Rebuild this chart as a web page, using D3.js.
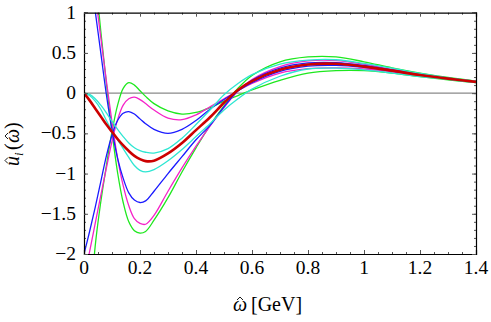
<!DOCTYPE html>
<meta charset="utf-8">
<title>u_i(omega) basis curves</title>
<script src="https://d3js.org/d3.v7.min.js"></script>
<style>
  body { margin: 0; background: #fff; }
</style>
<body>
<script>

// omega grid (GeV) and curve values
var omega = [0, 0.02, 0.04, 0.06, 0.08, 0.1, 0.12, 0.14, 0.16, 0.18, 0.2, 0.22, 0.25, 0.3,
             0.35, 0.4, 0.45, 0.5, 0.55, 0.6, 0.7, 0.8, 0.9, 1.0, 1.1, 1.2, 1.3, 1.4];

var redCurve  = [0, -0.09, -0.19, -0.29, -0.39, -0.48, -0.57, -0.65, -0.72, -0.78, -0.82, -0.845, -0.84, -0.75,
                 -0.62, -0.46, -0.3, -0.12, 0.04, 0.15, 0.29, 0.355, 0.365, 0.33, 0.28, 0.225, 0.18, 0.14];
var cyanUp    = [0, -0.015, -0.07, -0.15, -0.245, -0.35, -0.45, -0.54, -0.62, -0.68, -0.715, -0.735, -0.745, -0.69,
                 -0.56, -0.39, -0.21, -0.02, 0.12, 0.23, 0.36, 0.41, 0.415, 0.37, 0.31, 0.245, 0.19, 0.15];
var cyanLo    = [0, -0.03, -0.1, -0.2, -0.34, -0.47, -0.58, -0.69, -0.8, -0.9, -0.96, -0.98, -0.95, -0.84,
                 -0.7, -0.54, -0.38, -0.21, -0.07, 0.05, 0.21, 0.3, 0.31, 0.29, 0.25, 0.205, 0.17, 0.13];
var blueUp    = [-2.0, -1.72, -1.42, -1.1, -0.78, -0.52, -0.34, -0.25, -0.23, -0.26, -0.32, -0.38, -0.45, -0.5,
                 -0.45, -0.34, -0.2, -0.08, 0.03, 0.13, 0.27, 0.335, 0.345, 0.32, 0.275, 0.225, 0.18, 0.14];
var blueLo    = [2.0, 1.54, 1.02, 0.5, -0.02, -0.46, -0.81, -1.06, -1.24, -1.33, -1.36, -1.34, -1.22, -1.0,
                 -0.79, -0.58, -0.4, -0.17, 0.03, 0.16, 0.31, 0.375, 0.38, 0.345, 0.29, 0.235, 0.185, 0.14];
var magUp     = [-2.3, -1.97, -1.62, -1.27, -0.93, -0.6, -0.33, -0.15, -0.07, -0.05, -0.08, -0.13, -0.21, -0.31,
                 -0.33, -0.27, -0.17, -0.07, 0.03, 0.12, 0.25, 0.305, 0.315, 0.3, 0.265, 0.22, 0.175, 0.135];
var magLo     = [2.3, 1.79, 1.24, 0.69, 0.15, -0.36, -0.81, -1.15, -1.4, -1.56, -1.62, -1.63, -1.52, -1.22,
                 -0.93, -0.66, -0.41, -0.18, 0.03, 0.17, 0.33, 0.4, 0.405, 0.36, 0.295, 0.23, 0.185, 0.145];
var greenUp   = [-3.5, -2.8, -1.9, -1.35, -0.9, -0.48, -0.15, 0.06, 0.13, 0.1, 0.03, -0.04, -0.13, -0.22,
                 -0.26, -0.24, -0.18, -0.1, -0.03, 0.04, 0.16, 0.25, 0.28, 0.28, 0.25, 0.205, 0.165, 0.13];
var greenLo   = [3.5, 2.6, 1.52, 0.77, 0.12, -0.48, -0.99, -1.36, -1.6, -1.71, -1.74, -1.72, -1.58, -1.3,
                 -0.98, -0.68, -0.4, -0.16, 0.06, 0.22, 0.39, 0.45, 0.45, 0.39, 0.315, 0.25, 0.195, 0.15];

var xMajor = [0, 0.2, 0.4, 0.6, 0.8, 1, 1.2, 1.4];
var yMajor = [-2, -1.5, -1, -0.5, 0, 0.5, 1];

var series = [
  {values: greenUp, color: "#1ee81e", width: 1.3},
  {values: greenLo, color: "#1ee81e", width: 1.3},
  {values: magUp,   color: "#f522c8", width: 1.3},
  {values: magLo,   color: "#f522c8", width: 1.3},
  {values: blueUp,  color: "#1a1aff", width: 1.3},
  {values: blueLo,  color: "#1a1aff", width: 1.3},
  {values: cyanUp,  color: "#2ee6d2", width: 1.3},
  {values: cyanLo,  color: "#2ee6d2", width: 1.3},
  {values: redCurve, color: "#cc0000", width: 2.6}
];

var SERIF = "'Liberation Serif', 'DejaVu Serif', serif";
var W = 491, H = 322;
var x = d3.scaleLinear().domain([0, 1.4]).range([84, 476]);
var y = d3.scaleLinear().domain([-2, 1]).range([254, 12.7]);

var svg = d3.select("body").append("svg")
    .attr("width", W)
    .attr("height", H)
    .style("font-family", SERIF);

svg.append("clipPath").attr("id", "plotclip")
  .append("rect")
    .attr("x", x(0)).attr("y", y(1))
    .attr("width", x(1.4) - x(0)).attr("height", y(-2) - y(1));

// zero line
svg.append("line")
    .attr("x1", x(0)).attr("x2", x(1.4))
    .attr("y1", y(0)).attr("y2", y(0))
    .attr("stroke", "#8a8a8a")
    .attr("stroke-width", 1.3);

var line = d3.line()
    .x(function(d) { return x(d[0]); })
    .y(function(d) { return y(d[1]); })
    .curve(d3.curveCatmullRom.alpha(0.5));

var curves = svg.append("g").attr("clip-path", "url(#plotclip)");
series.forEach(function(s) {
  curves.append("path")
      .datum(omega.map(function(o, i) { return [o, s.values[i]]; }))
      .attr("fill", "none")
      .attr("stroke", s.color)
      .attr("stroke-width", s.width)
      .attr("d", line);
});

// frame with inward ticks, mirrored on top/right
var xMinor = d3.range(0, 1.4001, 0.05);
var yMinor = d3.range(-2, 1.0001, 0.1);
var fmt = d3.format("~g");

function frameSide(axis, pos, vals, len, keepDomain) {
  var g = svg.append("g").attr("transform", pos)
      .call(axis.tickValues(vals).tickSize(-len).tickFormat(""));
  g.selectAll(".tick text").remove();
  g.selectAll(".tick line").attr("stroke", "#555");
  if (keepDomain) g.select(".domain").attr("stroke", "#000").attr("stroke-width", 1.2);
  else g.select(".domain").remove();
}

frameSide(d3.axisBottom(x), "translate(0," + y(-2) + ")", xMinor, 2, false);
frameSide(d3.axisTop(x), "translate(0," + y(1) + ")", xMinor, 2, false);
frameSide(d3.axisLeft(y), "translate(" + x(0) + ",0)", yMinor, 2, false);
frameSide(d3.axisRight(y), "translate(" + x(1.4) + ",0)", yMinor, 2, false);
frameSide(d3.axisBottom(x), "translate(0," + y(-2) + ")", xMajor, 4, true);
frameSide(d3.axisTop(x), "translate(0," + y(1) + ")", xMajor, 4, true);
frameSide(d3.axisLeft(y), "translate(" + x(0) + ",0)", yMajor, 4, true);
frameSide(d3.axisRight(y), "translate(" + x(1.4) + ",0)", yMajor, 4, true);

// tick labels
svg.append("g").selectAll("text").data(xMajor).join("text")
    .attr("x", function(d) { return x(d); })
    .attr("y", 274)
    .attr("text-anchor", "middle")
    .style("font-size", "19.5px")
    .text(fmt);
svg.append("g").selectAll("text").data(yMajor).join("text")
    .attr("x", 76)
    .attr("y", function(d) { return y(d) + 6; })
    .attr("text-anchor", "end")
    .style("font-size", "19.5px")
    .text(fmt);

// small circumflex accent drawn as a path
function hat(g, cx, top) {
  g.append("path")
      .attr("d", "M" + (cx - 3) + "," + (top + 3) + "L" + cx + "," + top + "L" + (cx + 3) + "," + (top + 3))
      .attr("fill", "none")
      .attr("stroke", "#000")
      .attr("stroke-width", 0.9);
}

// axis titles
var xt = svg.append("g").attr("transform", "translate(233,311)");
xt.append("text").style("font-size", "20px").style("font-style", "italic").text("\u03c9");
hat(xt, 7, -14);
xt.append("text").attr("x", 18).style("font-size", "20px").text("[GeV]");

var yt = svg.append("g").attr("transform", "translate(19,166) rotate(-90)");
yt.append("text").style("font-size", "20px").style("font-style", "italic").text("u");
hat(yt, 5.5, -14);
yt.append("text").attr("x", 10).attr("y", 4).style("font-size", "13px").style("font-style", "italic").text("i");
yt.append("text").attr("x", 16).style("font-size", "20px").text("(");
yt.append("text").attr("x", 23).style("font-size", "20px").style("font-style", "italic").text("\u03c9");
hat(yt, 30, -14);
yt.append("text").attr("x", 37).style("font-size", "20px").text(")");

</script>
</body>
